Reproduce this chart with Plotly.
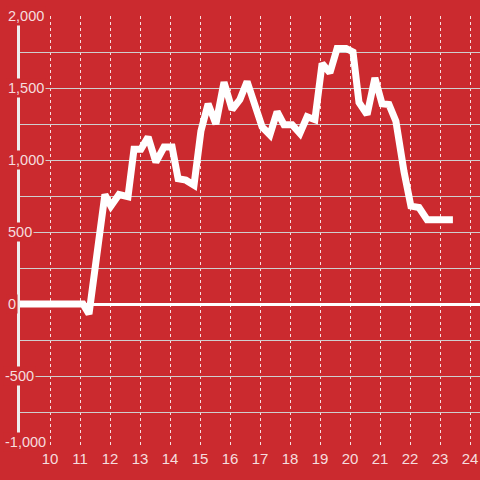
import plotly.graph_objects as go

# hour of day vs. value
hours = [9.0, 11.1, 11.3, 11.83, 12.03, 12.3, 12.6, 12.8, 13.03, 13.27, 13.53,
         13.8, 14.07, 14.27, 14.53, 14.8, 15.03, 15.27, 15.53, 15.8, 16.07,
         16.33, 16.57, 16.8, 17.07, 17.33, 17.57, 17.8, 18.07, 18.33, 18.57,
         18.83, 19.07, 19.33, 19.57, 19.87, 20.1, 20.3, 20.57, 20.83, 21.07,
         21.3, 21.53, 21.8, 22.03, 22.3, 22.57, 23.43]
values = [0, 0, -70, 760, 680, 760, 745, 1075, 1075, 1160, 985,
          1090, 1090, 870, 860, 825, 1200, 1390, 1250, 1540, 1350,
          1420, 1545, 1410, 1230, 1175, 1335, 1245, 1245, 1185, 1300,
          1280, 1670, 1605, 1775, 1775, 1750, 1400, 1315, 1570, 1390,
          1385, 1270, 920, 680, 670, 585, 585]

x_ticks = list(range(10, 25))
y_ticks = [2000, 1500, 1000, 500, 0, -500, -1000]
y_tick_text = ["2,000", "1,500", "1,000", "500", "0", "-500", "-1,000"]

BG = "#cb2a2f"
LABEL = "rgba(255,255,255,0.85)"
FONT = "Liberation Sans, Arial, sans-serif"

fig = go.Figure(
    go.Scatter(
        x=hours,
        y=values,
        mode="lines",
        line=dict(color="white", width=7),
        hoverinfo="skip",
    )
)

# y labels: left aligned, on a red box over the axis line and gridlines
for v, t in zip(y_ticks, y_tick_text):
    left_px = 3 if t.startswith("-") else 6
    fig.add_annotation(
        x=(left_px - 20) / 460, xref="paper", xanchor="left",
        y=v, yref="y", yanchor="middle",
        yshift=6 if v == y_ticks[-1] else 0,  # bottom label kept above x labels
        text=t, showarrow=False,
        bgcolor=BG, borderpad=1,
        font=dict(family=FONT, size=14.5, color=LABEL),
    )

fig.update_layout(
    width=480,
    height=480,
    margin=dict(l=20, r=0, t=16, b=32, autoexpand=False),
    paper_bgcolor=BG,
    plot_bgcolor=BG,
    showlegend=False,
    font=dict(family=FONT, size=15, color=LABEL),
    xaxis=dict(
        range=[9, 9 + 460 / 30],
        tickvals=x_ticks,
        showgrid=True,
        gridcolor="rgba(255,255,255,0.85)",
        gridwidth=1,
        griddash="dot",
        zeroline=False,
        showline=False,
        ticks="",
        tickfont=dict(family=FONT, size=15, color=LABEL),
    ),
    yaxis=dict(
        range=[-1000, 2000],
        tick0=0,
        dtick=250,
        showticklabels=False,
        showgrid=True,
        gridcolor="#cfcfcf",
        gridwidth=1,
        zeroline=True,
        zerolinecolor="white",
        zerolinewidth=3,
        showline=True,
        linecolor="#eeeeee",
        linewidth=3,
        ticks="",
    ),
)

fig.write_html(
    "out.html",
    config={"displayModeBar": False},
    post_script="document.body.style.margin='0';",
)
